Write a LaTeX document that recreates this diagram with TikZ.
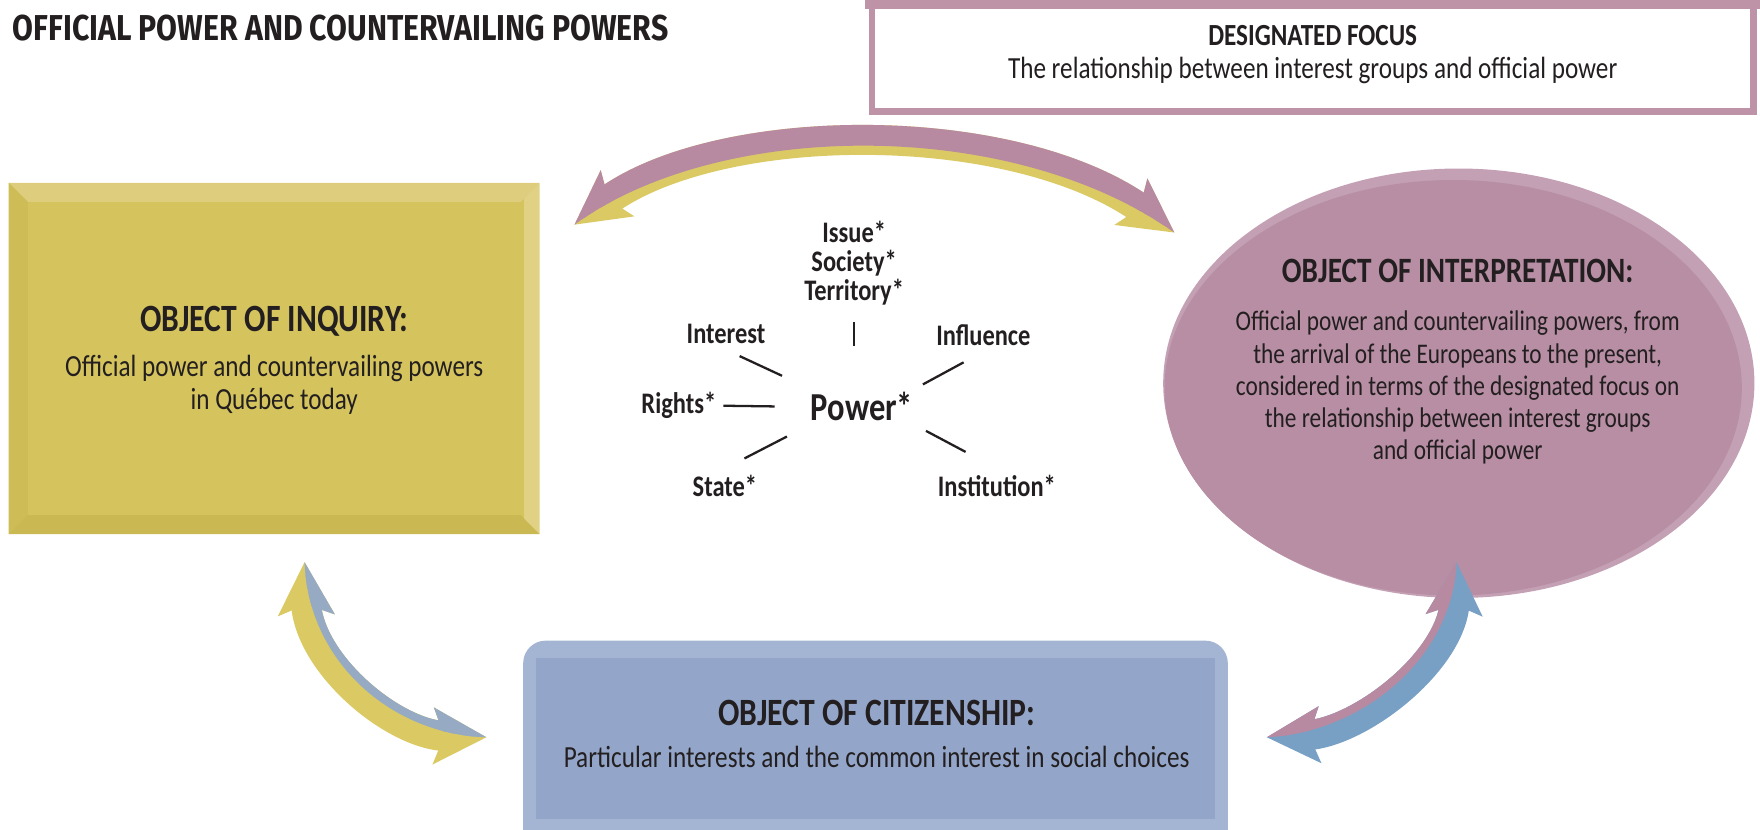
\documentclass[tikz,border=0pt]{standalone}
\usepackage{fontspec}
\setmainfont{Carlito}[FakeStretch=0.82]
\newfontfamily\titlefont{Fira Sans}[FakeStretch=0.84]
\usepackage{xcolor}
\usetikzlibrary{arrows.meta, positioning, shapes.geometric}

\definecolor{inktext}{RGB}{35,31,32}
\definecolor{inqyellow}{RGB}{213,196,94}
\definecolor{inqtop}{RGB}{221,205,125}
\definecolor{inqleft}{RGB}{206,188,86}
\definecolor{inqbottom}{RGB}{202,184,82}
\definecolor{inqright}{RGB}{224,209,132}
\definecolor{interpink}{RGB}{183,142,163}
\definecolor{interrim}{RGB}{196,160,180}
\definecolor{focuspink}{RGB}{190,146,167}
\definecolor{citblue}{RGB}{147,166,201}
\definecolor{citlight}{RGB}{164,180,211}
\definecolor{arrowyellow}{RGB}{219,201,100}
\definecolor{arrowpink}{RGB}{184,138,162}
\definecolor{arrowblue}{RGB}{150,170,196}
\definecolor{arrowsteel}{RGB}{120,160,196}

\newcommand{\objhead}[1]{{\bfseries\fontsize{22}{25}\selectfont #1}}

\begin{document}
\begin{tikzpicture}[x=0.0225cm, y=-0.0225cm]
    % Define styles
    \tikzstyle{objtext} = [align=center, text=inktext, font=\fontsize{17.5}{18.6}\selectfont]
    \tikzstyle{term} = [align=center, text=inktext, font=\bfseries\fontsize{17}{16.4}\selectfont]
    \tikzstyle{spoke} = [draw=inktext, line width=1.3pt]
    \tikzstyle{bigarrow} = [line width=0.6cm, {Stealth[length=1.05cm, width=1.1cm, inset=0.2cm]}-{Stealth[length=1.05cm, width=1.1cm, inset=0.2cm]}]

    \useasboundingbox (0,0) rectangle (1566,738);

    % Title
    \node[anchor=west, text=inktext, font=\titlefont\bfseries\fontsize{20.5}{22}\selectfont] (title) at (6,25) {OFFICIAL POWER AND COUNTERVAILING POWERS};

    % Designated focus
    \node[draw=focuspink, line width=0.13cm, fill=white, minimum width=17.65cm, minimum height=2.12cm] (focus) at (1168,52) {};
    \fill[focuspink] ([shift={(-3,-3)}]focus.north west) rectangle ([shift={(3,6)}]focus.north east);
    \node[objtext] (focustext) at ([yshift=0.08cm]focus) {\textbf{DESIGNATED FOCUS}\\The relationship between interest groups and official power};

    % Object of inquiry
    \node[fill=inqyellow, minimum width=10.62cm, minimum height=7.02cm, inner sep=0pt] (inquiry) at (244,319) {};
    \fill[inqtop] (inquiry.north west) -- (inquiry.north east) -- ([shift={(-17,17)}]inquiry.north east) -- ([shift={(17,17)}]inquiry.north west) -- cycle;
    \fill[inqleft] (inquiry.north west) -- ([shift={(17,17)}]inquiry.north west) -- ([shift={(17,-17)}]inquiry.south west) -- (inquiry.south west) -- cycle;
    \fill[inqbottom] (inquiry.south west) -- ([shift={(17,-17)}]inquiry.south west) -- ([shift={(-17,-17)}]inquiry.south east) -- (inquiry.south east) -- cycle;
    \fill[inqright] (inquiry.north east) -- ([shift={(-14,14)}]inquiry.north east) -- ([shift={(-14,-14)}]inquiry.south east) -- (inquiry.south east) -- cycle;
    \node[objtext] (inqtext) at ([yshift=-0.04cm]inquiry) {\objhead{OBJECT OF INQUIRY:}\\[7pt]Official power and countervailing powers\\in Québec today};

    % Object of interpretation
    \node[ellipse, fill=interrim, minimum width=11.84cm, minimum height=8.6cm, inner sep=0pt] (interp) at (1298,341) {};
    \fill[interpink] (1293,345) ellipse [x radius=5.78cm, y radius=4.16cm];
    \node[objtext, font=\fontsize{16.2}{18.4}\selectfont] (interptext) at (1297,322) {{\bfseries\fontsize{20.3}{24}\selectfont OBJECT OF INTERPRETATION:}\\[9pt]Official power and countervailing powers, from\\the arrival of the Europeans to the present,\\considered in terms of the designated focus on\\the relationship between interest groups\\and official power};

    % Object of citizenship
    \node[fill=citlight, rounded corners=0.45cm, minimum width=14.11cm, minimum height=4.5cm] (citizen) at (779,670) {};
    \fill[citblue] ([shift={(12,16)}]citizen.north west) rectangle ([shift={(-12,-42)}]citizen.south east);
    \node[objtext] (citext) at (780,653) {\objhead{OBJECT OF CITIZENSHIP:}\\[5pt]Particular interests and the common interest in social choices};

    % Power and related concepts
    \node[text=inktext, font=\bfseries\fontsize{22.6}{26}\selectfont] (power) at (767,362) {Power*};
    \node[term] (issue) at (760,234) {Issue*\\Society*\\Territory*};
    \node[term] (interest) at (646,297) {Interest};
    \node[term] (influence) at (875,298) {Influence};
    \node[term] (rights) at (604,361) {Rights*};
    \node[term] (state) at (645,432) {State*};
    \node[term] (institution) at (887,432) {Institution*};

    \draw[spoke, shorten <=0.23cm, shorten >=0.8cm] (issue.south) -- (issue.south |- power.north);
    \draw[spoke, shorten <=0.3cm, shorten >=0.5cm] (interest.south) -- (power.north west);
    \draw[spoke, shorten <=0.45cm, shorten >=0.08cm] (influence.south) -- (power.north east);
    \draw[spoke, shorten <=0.02cm, shorten >=0.6cm] (rights.east) -- (power.west);
    \draw[spoke, shorten <=0.44cm, shorten >=0.4cm] (state.north) -- (power.south west);
    \draw[spoke, shorten <=0.71cm, shorten >=0.15cm] (institution.north) -- (power.south east);

    % Two-tone arrows
    \coordinate (focusL) at (511,200);
    \coordinate (focusR) at (1045,207);
    \coordinate (inqB) at (271,500);
    \coordinate (citL) at (433,656);
    \coordinate (citR) at (1127,656);
    \coordinate (interB) at (1296,500);

    \draw[bigarrow, arrowyellow] (focusL) .. controls (640,106) and (900,104) .. (focusR);
    \begin{scope}
        \clip (focusL) .. controls (640,106) and (900,104) .. (focusR) -- (1110,207) -- (1110,40) -- (440,40) -- (440,200) -- cycle;
        \draw[bigarrow, arrowpink] (focusL) .. controls (640,106) and (900,104) .. (focusR);
    \end{scope}

    \draw[bigarrow, arrowyellow] (inqB) .. controls (274,590) and (350,654) .. (citL);
    \begin{scope}
        \clip (inqB) .. controls (274,590) and (350,654) .. (citL) -- (495,656) -- (495,460) -- (271,460) -- cycle;
        \draw[bigarrow, arrowblue] (inqB) .. controls (274,590) and (350,654) .. (citL);
    \end{scope}

    \draw[bigarrow, arrowsteel] (citR) .. controls (1210,652) and (1292,588) .. (interB);
    \begin{scope}
        \clip (citR) .. controls (1210,652) and (1292,588) .. (interB) -- (1296,460) -- (1090,460) -- (1090,656) -- cycle;
        \draw[bigarrow, arrowpink] (citR) .. controls (1210,652) and (1292,588) .. (interB);
    \end{scope}
\end{tikzpicture}
\end{document}
